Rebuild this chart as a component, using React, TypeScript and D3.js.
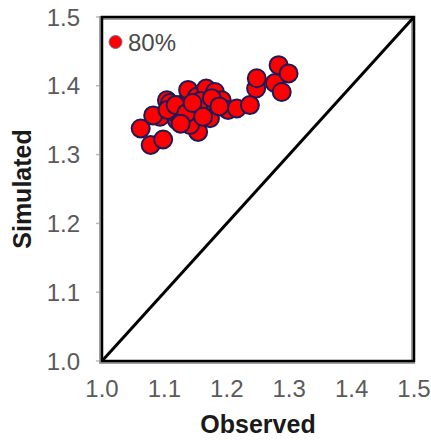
import React, { useEffect, useRef } from "react";
import * as d3 from "d3";

// observed vs simulated values
const observed = [
  1.062, 1.078, 1.098, 1.093, 1.082, 1.104, 1.109, 1.120, 1.125, 1.133,
  1.138, 1.149, 1.152, 1.154, 1.160, 1.167, 1.168, 1.173, 1.181, 1.192,
  1.144, 1.115, 1.128, 1.158, 1.176, 1.202, 1.216, 1.237, 1.247, 1.248,
  1.277, 1.288, 1.283, 1.299, 1.188, 1.141, 1.105, 1.118, 1.135, 1.145,
  1.162, 1.126
];
const simulated = [
  1.338, 1.314, 1.322, 1.355, 1.357, 1.379, 1.375, 1.350, 1.372, 1.350,
  1.394, 1.357, 1.384, 1.333, 1.365, 1.396, 1.372, 1.353, 1.391, 1.379,
  1.368, 1.362, 1.360, 1.378, 1.382, 1.365, 1.367, 1.372, 1.396, 1.411,
  1.404, 1.391, 1.430, 1.418, 1.370, 1.343, 1.365, 1.372, 1.360, 1.375,
  1.355, 1.345
];
const ticks = [1.0, 1.1, 1.2, 1.3, 1.4, 1.5];
const legendLabel = "80%";

export default function App() {
  const ref = useRef<SVGSVGElement>(null);

  useEffect(() => {
    const svg = d3.select(ref.current);
    svg.selectAll("*").remove();

    const margin = { top: 17, right: 17, bottom: 80, left: 102 };
    const width = 431 - margin.left - margin.right;
    const height = 441 - margin.top - margin.bottom;
    const font = "'Liberation Sans', Arial, sans-serif";

    const x = d3.scaleLinear().domain([1, 1.5]).range([margin.left, margin.left + width]);
    const y = d3.scaleLinear().domain([1, 1.5]).range([margin.top + height, margin.top]);

    // y ticks
    svg.append("g").selectAll("line").data(ticks).enter().append("line")
      .attr("x1", margin.left - 6).attr("x2", margin.left)
      .attr("y1", d => y(d)).attr("y2", d => y(d))
      .attr("stroke", "#bbb").attr("stroke-width", 1.5);

    svg.append("g").selectAll("text").data(ticks).enter().append("text")
      .text(d => d.toFixed(1))
      .attr("x", margin.left - 22).attr("y", d => y(d)).attr("dy", "0.36em")
      .attr("text-anchor", "end").attr("font-family", font)
      .attr("font-size", 24).attr("fill", "#5a5a5a");

    svg.append("g").selectAll("text").data(ticks).enter().append("text")
      .text(d => d.toFixed(1))
      .attr("x", d => x(d)).attr("y", margin.top + height + 27).attr("dy", "0.36em")
      .attr("text-anchor", "middle").attr("font-family", font)
      .attr("font-size", 24).attr("fill", "#5a5a5a");

    // frame
    svg.append("rect")
      .attr("x", margin.left - 1).attr("y", margin.top + 1)
      .attr("width", width).attr("height", height)
      .attr("fill", "white").attr("stroke", "#a0a0a0").attr("stroke-width", 4);
    svg.append("rect")
      .attr("x", margin.left).attr("y", margin.top)
      .attr("width", width).attr("height", height)
      .attr("fill", "none").attr("stroke", "#000").attr("stroke-width", 2.5);

    // 1:1 line
    svg.append("line")
      .attr("x1", x(1)).attr("y1", y(1)).attr("x2", x(1.5)).attr("y2", y(1.5))
      .attr("stroke", "#000").attr("stroke-width", 3);

    // points
    const pts = observed.map((o, i) => ({ o, s: simulated[i] }));
    svg.append("g").selectAll("circle").data(pts).enter().append("circle")
      .attr("cx", d => x(d.o)).attr("cy", d => y(d.s)).attr("r", 9)
      .attr("fill", "#ff0000").attr("stroke", "#1e1a55").attr("stroke-width", 2);

    // legend
    svg.append("circle")
      .attr("cx", margin.left + 13.5).attr("cy", margin.top + 25).attr("r", 6.5)
      .attr("fill", "#ff0000").attr("stroke", "#7a6a9a").attr("stroke-width", 1);
    svg.append("text").text(legendLabel)
      .attr("x", margin.left + 26).attr("y", margin.top + 25).attr("dy", "0.36em")
      .attr("font-family", font).attr("font-size", 24).attr("fill", "#4a4a4a");

    // axis titles
    svg.append("text").text("Observed")
      .attr("x", margin.left + width / 2).attr("y", 433)
      .attr("text-anchor", "middle").attr("font-family", font)
      .attr("font-weight", "bold").attr("font-size", 25).attr("fill", "#1a1a1a");
    svg.append("text").text("Simulated")
      .attr("transform", `translate(31, ${margin.top + height / 2}) rotate(-90)`)
      .attr("text-anchor", "middle").attr("font-family", font)
      .attr("font-weight", "bold").attr("font-size", 25).attr("fill", "#1a1a1a");
  }, []);

  return (
    <svg ref={ref} width={431} height={441}
      style={{ position: "absolute", left: 0, top: 0, background: "white" }} />
  );
}
